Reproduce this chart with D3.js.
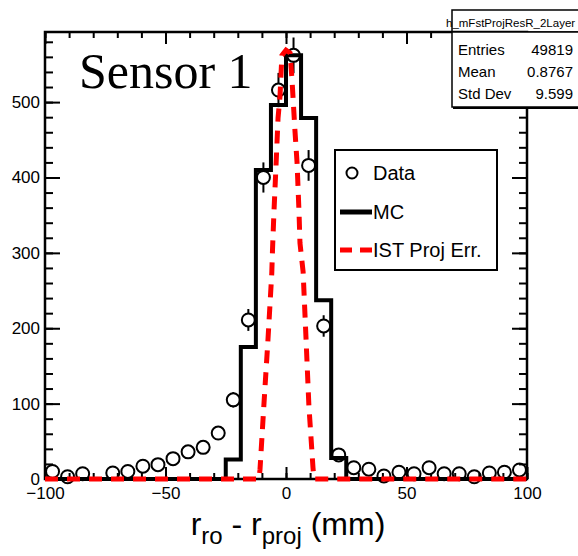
<!DOCTYPE html>
<html>
<head>
<meta charset="utf-8">
<script src="https://cdn.jsdelivr.net/npm/d3@7"></script>
<style>
  body { margin: 0; background: #fff; }
  svg { display: block; }
  text { font-family: "Liberation Sans", Arial, Helvetica, sans-serif; }
</style>
</head>
<body>
<svg id="chart" width="578" height="556"></svg>
<script>
// 32 bins of 6.25 mm between -100 and 100
var binLo = -100, binW = 6.25
var dataCounts = [10,3,7,null,8,10,17,19,27,36,42,61,105,211,400,516,562,416,203,32,15,13,4,9,7,15,7,7,3,8,9,12]
var mcCounts = [0,0,0,0,0,0,0,0,0,0,0,0,26,175,410,496,562,479,237,28,0,0,0,0,0,0,0,0,0,0,0,0]
// IST projection error curve
var projX = [-100,-11.2,-10.8,-9.1,-7.5,-5.9,-5.6,-5.0,-4.1,-3.3,-2.5,-1.7,0,1.7,2.5,3.7,4.6,5.4,5.8,7.1,8.3,9.5,11.2,11.6,100]
var projY = [0,0,12,102,184,273,304,354,419,479,507,562,569,565,529,463,419,354,313,275,187,97,15,0,0]
var xTicks = [-100,-50,0,50,100]
var yTicks = [0,100,200,300,400,500]
var statLabels = ["Entries","Mean","Std Dev"]
var statValues = ["49819","0.8767","9.599"]
var legendLabels = ["Data","MC","IST Proj Err."]
var histName = "h_mFstProjResR_2Layer"

var svg = d3.select("#chart")
var fL = 45, fR = 527, fT = 32, fB = 479

var x = d3.scaleLinear().domain([-100, 100]).range([fL, fR])
var y = d3.scaleLinear().domain([0, 593]).range([fB, fT])

// axes, ticks pointing inside the frame
function styleAxis(g) {
  g.select(".domain").remove()
  g.selectAll(".tick line").attr("stroke", "#000").attr("stroke-width", 2)
  g.selectAll(".tick text").attr("fill", "#000").style("font-size", "17px")
}

svg.append("g").attr("transform", "translate(0," + fB + ")")
  .call(d3.axisBottom(x).tickValues(d3.range(-100, 101, 10)).tickSize(-6).tickFormat(""))
  .call(styleAxis)
svg.append("g").attr("transform", "translate(0," + fB + ")")
  .call(d3.axisBottom(x).tickValues(xTicks).tickSize(-12).tickPadding(8).tickFormat(d3.format("d")))
  .call(styleAxis)
svg.append("g").attr("transform", "translate(0," + fT + ")")
  .call(d3.axisTop(x).tickValues(d3.range(-100, 101, 10)).tickSize(-6).tickFormat(""))
  .call(styleAxis)
svg.append("g").attr("transform", "translate(0," + fT + ")")
  .call(d3.axisTop(x).tickValues(xTicks).tickSize(-12).tickFormat(""))
  .call(styleAxis)

svg.append("g").attr("transform", "translate(" + fL + ",0)")
  .call(d3.axisLeft(y).tickValues(d3.range(0, 591, 20)).tickSize(-8).tickFormat(""))
  .call(styleAxis)
svg.append("g").attr("transform", "translate(" + fL + ",0)")
  .call(d3.axisLeft(y).tickValues(yTicks).tickSize(-15).tickPadding(5).tickFormat(d3.format("d")))
  .call(styleAxis)
svg.append("g").attr("transform", "translate(" + fR + ",0)")
  .call(d3.axisRight(y).tickValues(d3.range(0, 591, 20)).tickSize(-8).tickFormat(""))
  .call(styleAxis)
svg.append("g").attr("transform", "translate(" + fR + ",0)")
  .call(d3.axisRight(y).tickValues(yTicks).tickSize(-15).tickFormat(""))
  .call(styleAxis)

svg.append("rect")
  .attr("x", fL).attr("y", fT)
  .attr("width", fR - fL).attr("height", fB - fT)
  .attr("fill", "none").attr("stroke", "#000").attr("stroke-width", 2.5)

// MC histogram as a step line
var mcPts = mcCounts.map(function(v, i) { return [binLo + i*binW, v] })
mcPts.unshift([binLo, 0])
mcPts.push([binLo + mcCounts.length*binW, 0])
var stepLine = d3.line()
  .x(function(d) { return x(d[0]) })
  .y(function(d) { return y(d[1]) })
  .curve(d3.curveStepAfter)
svg.append("path")
  .attr("d", stepLine(mcPts))
  .attr("fill", "none").attr("stroke", "#000").attr("stroke-width", 4)

// data points with sqrt(N) error bars
var r = 6.5
var pts = dataCounts.map(function(v, i) { return {c: binLo + (i + 0.5)*binW, v: v} })
  .filter(function(d) { return d.v !== null })
var gData = svg.append("g")
pts.forEach(function(d) {
  var e = Math.sqrt(d.v)
  var cy = y(d.v)
  if (y(d.v + e) < cy - r) {
    gData.append("line").attr("x1", x(d.c)).attr("x2", x(d.c))
      .attr("y1", y(d.v + e)).attr("y2", cy - r)
      .attr("stroke", "#000").attr("stroke-width", 2)
    gData.append("line").attr("x1", x(d.c)).attr("x2", x(d.c))
      .attr("y1", cy + r).attr("y2", y(d.v - e))
      .attr("stroke", "#000").attr("stroke-width", 2)
  }
})
gData.selectAll("circle")
  .data(pts)
  .enter().append("circle")
    .attr("cx", function(d) { return x(d.c) })
    .attr("cy", function(d) { return y(d.v) })
    .attr("r", r)
    .attr("fill", "none").attr("stroke", "#000").attr("stroke-width", 2)

// IST projection error, red dashed
var projLine = d3.line()
  .x(function(d) { return x(d[0]) })
  .y(function(d) { return y(d[1]) })
svg.append("path")
  .attr("d", projLine(d3.zip(projX, projY)))
  .attr("fill", "none").attr("stroke", "#ff0000").attr("stroke-width", 5)
  .attr("stroke-dasharray", "13,9")

// label in the corner
svg.append("text")
  .attr("x", 79).attr("y", 88)
  .style("font-family", "'Liberation Serif', 'Times New Roman', serif")
  .style("font-size", "50px")
  .text("Sensor 1")

// legend
var lg = svg.append("g")
lg.append("rect").attr("x", 335).attr("y", 150).attr("width", 162).attr("height", 120)
  .attr("fill", "#fff").attr("stroke", "#000").attr("stroke-width", 2)
var rowY = [173, 212, 250]
lg.append("circle").attr("cx", 352).attr("cy", rowY[0]).attr("r", 5.5)
  .attr("fill", "none").attr("stroke", "#000").attr("stroke-width", 2)
lg.append("line").attr("x1", 340).attr("x2", 372).attr("y1", rowY[1]).attr("y2", rowY[1])
  .attr("stroke", "#000").attr("stroke-width", 5)
lg.append("line").attr("x1", 340).attr("x2", 372).attr("y1", rowY[2]).attr("y2", rowY[2])
  .attr("stroke", "#ff0000").attr("stroke-width", 5).attr("stroke-dasharray", "12,8")
lg.selectAll("text.lab")
  .data(legendLabels)
  .enter().append("text")
    .attr("class", "lab")
    .attr("x", 373)
    .attr("y", function(d, i) { return rowY[i] + 7 })
    .style("font-size", "20px")
    .text(function(d) { return d })

// stats box
var st = svg.append("g")
st.append("text").attr("x", 446).attr("y", 27).style("font-size", "11.5px").text(histName)
st.append("rect").attr("x", 452).attr("y", 10).attr("width", 140).attr("height", 22)
  .attr("fill", "none").attr("stroke", "#000").attr("stroke-width", 1.5)
st.append("rect").attr("x", 452).attr("y", 32).attr("width", 140).attr("height", 75)
  .attr("fill", "#fff").attr("stroke", "#000").attr("stroke-width", 1.5)
st.append("line").attr("x1", 453).attr("x2", 578).attr("y1", 108).attr("y2", 108)
  .attr("stroke", "#000").attr("stroke-width", 2)
st.selectAll("text.sl")
  .data(statLabels)
  .enter().append("text")
    .attr("class", "sl")
    .attr("x", 458)
    .attr("y", function(d, i) { return 55 + i*22 })
    .style("font-size", "15px")
    .text(function(d) { return d })
st.selectAll("text.sv")
  .data(statValues)
  .enter().append("text")
    .attr("class", "sv")
    .attr("x", 573)
    .attr("y", function(d, i) { return 55 + i*22 })
    .attr("text-anchor", "end")
    .style("font-size", "15px")
    .text(function(d) { return d })

// x axis title with subscripts
var xt = svg.append("text").attr("x", 288).attr("y", 535)
  .attr("text-anchor", "middle").style("font-size", "32px")
xt.append("tspan").text("r")
xt.append("tspan").style("font-size", "24px").attr("dy", 9).text("ro")
xt.append("tspan").attr("dy", -9).text(" - r")
xt.append("tspan").style("font-size", "24px").attr("dy", 9).text("proj")
xt.append("tspan").attr("dy", -9).text(" (mm)")
</script>
</body>
</html>
